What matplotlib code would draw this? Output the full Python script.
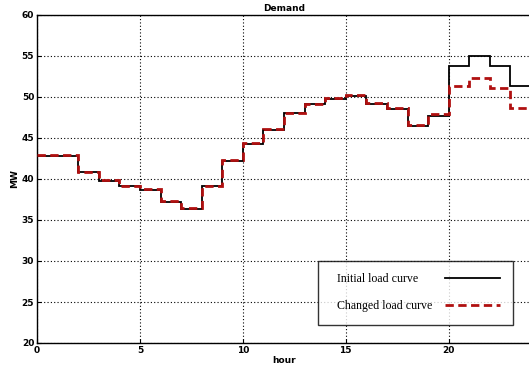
import numpy as np
import matplotlib; matplotlib.use("Agg")
import matplotlib.pyplot as plt
from matplotlib.offsetbox import HPacker, DrawingArea

# hourly demand (MW), one value per hour 0..23
hours = np.arange(0, 25)
initial = [42.8, 42.8, 40.8, 39.8, 39.1, 38.7, 37.2, 36.4, 39.1, 42.2,
           44.3, 46.0, 48.0, 49.1, 49.8, 50.1, 49.2, 48.5, 46.5, 47.7,
           53.8, 55.0, 53.8, 51.3]
changed = [42.9, 42.9, 40.9, 39.9, 39.2, 38.8, 37.3, 36.5, 39.2, 42.3,
           44.4, 46.1, 48.1, 49.2, 49.9, 50.2, 49.3, 48.6, 46.6, 47.9,
           51.3, 52.3, 51.1, 48.7]
xticks = [0, 5, 10, 15, 20]
yticks = [20, 25, 30, 35, 40, 45, 50, 55, 60]

fig = plt.figure(figsize=(5.29, 3.67), dpi=100)
ax = fig.add_axes([37/529, 1-343/367, 494/529, 328/367])

ax.stairs(initial, hours, baseline=None, color="black", lw=1.3,
          label="Initial load curve", zorder=3)
ax.stairs(changed, hours, baseline=None, color="#b01010", lw=2.0, ls=(0, (3, 1.6)),
          label="Changed load curve", zorder=4)

ax.set_xlim(0, 24); ax.set_ylim(20, 60)
ax.set_xticks(xticks); ax.set_yticks(yticks)
ax.grid(True, color="black", ls=(0, (1, 2)), lw=0.8)
ax.tick_params(direction="in", labelsize=6.5, length=3, pad=2)
for lab in ax.get_xticklabels() + ax.get_yticklabels():
    lab.set_fontweight("bold")
for s in ax.spines.values(): s.set_linewidth(1.0)
ax.set_title("Demand", fontsize=6.5, fontweight="bold", pad=3)
ax.set_xlabel("hour", fontsize=6.5, fontweight="bold", labelpad=1)
ax.set_ylabel("MW", fontsize=6.5, fontweight="bold", labelpad=2)

leg = ax.legend(loc="lower left", bbox_to_anchor=(0.569, 0.055), markerfirst=False,
                prop={"family": "Liberation Serif", "size": 8.6}, frameon=True, fancybox=False,
                edgecolor="black", handlelength=4.6, handletextpad=0.9, labelspacing=1.25,
                borderpad=1.05, borderaxespad=0)
leg.get_frame().set_linewidth(1.0)
# table-like legend: labels flush left (with a little extra indent), lines flush right
for item in leg._legend_handle_box.get_children()[0].get_children():
    text_box, handle_box = item.get_children()
    item._children = [HPacker(pad=0, sep=0, children=[DrawingArea(4.3, 0), text_box]), handle_box]
    item.mode = "expand"
    item.width = 169.5

fig.savefig("out.png", dpi=100)
